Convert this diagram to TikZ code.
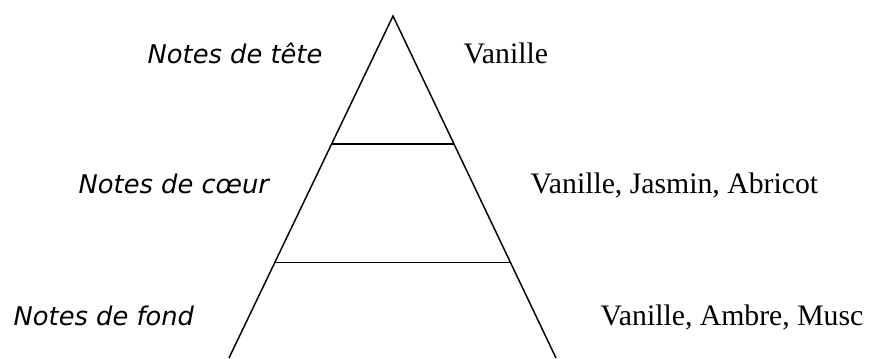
\documentclass[tikz,border=0pt]{standalone}
\usepackage{fontspec}
\setmainfont{Liberation Serif}
\newfontfamily\labelfont{DejaVu Sans}
\usetikzlibrary{calc}
\begin{document}
\begin{tikzpicture}[x=0.75pt,y=-0.75pt,line width=1.1pt,
  leftlbl/.style={anchor=base west,inner sep=0pt,font=\labelfont\itshape\fontsize{19.3}{23}\selectfont},
  rightlbl/.style={anchor=base west,inner sep=0pt,font=\fontsize{22.3}{26}\selectfont}]
\useasboundingbox (0,0) rectangle (869,358);
\coordinate (apex) at (393,16);
\coordinate (bl) at (229,358);
\coordinate (br) at (556,358);
\draw (bl) -- (apex) -- (br);
\coordinate (l1a) at ($(apex)!0.3743!(bl)$);
\coordinate (l1b) at ($(apex)!0.3743!(br)$);
\coordinate (l2a) at ($(apex)!0.7213!(bl)$);
\coordinate (l2b) at ($(apex)!0.7213!(br)$);
\draw (l1a) -- (l1b);
\draw (l2a) -- (l2b);
\node[leftlbl] (tete) at (147,63) {Notes de tête};
\node[leftlbl] (coeur) at (78,193) {Notes de cœur};
\node[leftlbl] (fond) at (13,325) {Notes de fond};
\node[rightlbl] (v1) at (463,63) {Vanille};
\node[rightlbl] (v2) at (530,193) {Vanille, Jasmin, Abricot};
\node[rightlbl] (v3) at (600,325) {Vanille, Ambre, Musc};
\end{tikzpicture}
\end{document}
